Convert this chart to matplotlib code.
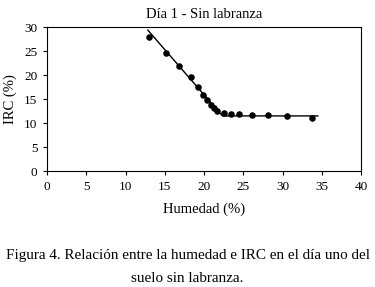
import matplotlib
matplotlib.use("Agg")
import matplotlib.pyplot as plt

plt.rcParams["font.family"] = ["Liberation Serif", "DejaVu Serif"]

# measured points
humedad = [13.05, 15.15, 16.8, 18.3, 19.2, 19.9, 20.4, 20.9, 21.3, 21.7,
           22.5, 23.4, 24.5, 26.1, 28.1, 30.6, 33.7]
irc = [28.0, 24.7, 21.9, 19.7, 17.6, 15.9, 14.8, 13.8, 13.1, 12.6,
       12.2, 12.0, 11.9, 11.7, 11.6, 11.5, 11.1]

# fitted segmented line
fit_x = [12.85, 22.35, 34.5]
fit_y = [29.4, 11.5, 11.5]

fig = plt.figure(figsize=(3.75, 2.87), dpi=100)
ax = fig.add_axes([47 / 375, 1 - 171 / 287, 314 / 375, 143.7 / 287])

ax.plot(fit_x, fit_y, color="black", lw=1.0)
ax.plot(humedad, irc, "o", color="black", ms=3.7)

ax.set_xlim(0, 40)
ax.set_ylim(0, 30)
ax.set_xticks(range(0, 41, 5))
ax.set_yticks(range(0, 31, 5))
ax.tick_params(direction="out", length=3, width=0.8, labelsize=9.5, pad=4)
for s in ax.spines.values():
    s.set_linewidth(0.8)

ax.set_xlabel("Humedad (%)", fontsize=10.5, labelpad=7)
ax.set_ylabel("IRC (%)", fontsize=10.5, labelpad=5)
ax.set_title("Día 1 - Sin labranza", fontsize=10.5, pad=7)

fig.text(0.5, 1 - 255 / 287, "Figura 4. Relación entre la humedad e IRC en el día uno del",
         ha="center", va="center", fontsize=10.9)
fig.text(0.5, 1 - 278 / 287, "suelo sin labranza.", ha="center", va="center", fontsize=10.9)

fig.savefig("out.png", dpi=100)
